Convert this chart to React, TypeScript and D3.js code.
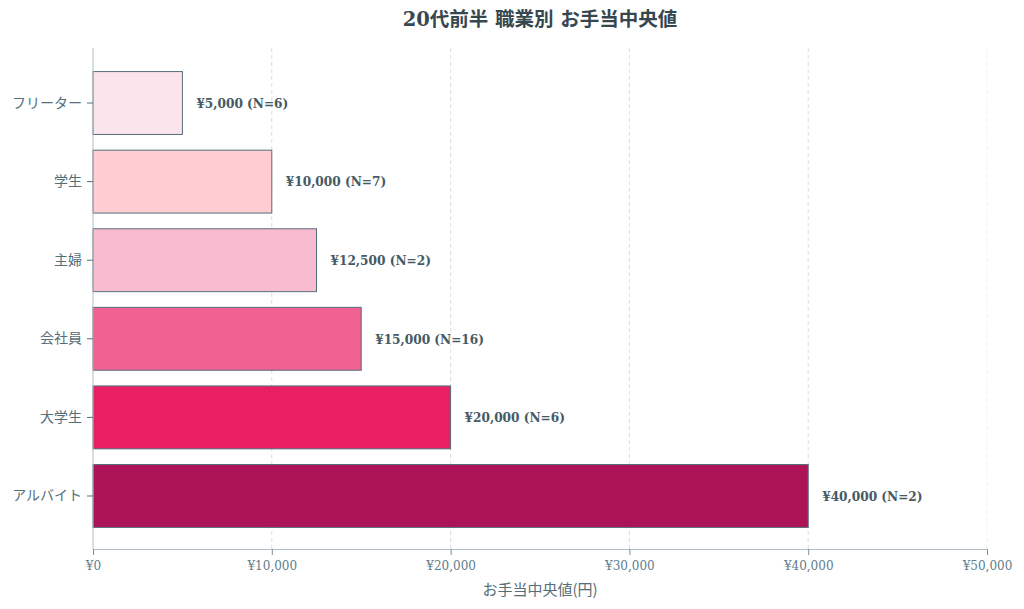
import { useEffect, useRef } from 'react'
import * as d3 from 'd3'

// 20代前半 職業別 お手当中央値
const jobs = ['フリーター', '学生', '主婦', '会社員', '大学生', 'アルバイト']
const medians = [5000, 10000, 12500, 15000, 20000, 40000]
const counts = [6, 7, 2, 16, 6, 2]
const colors = ['#fce4ec', '#ffcdd2', '#f8bbd0', '#f06292', '#e91e63', '#ad1457']
const xTicks = [0, 10000, 20000, 30000, 40000, 50000]

const W = 1024
const H = 609
const FONT = '"DejaVu Serif", "Noto Sans CJK JP", serif'

export default function App() {
  const svgRef = useRef<SVGSVGElement | null>(null)

  useEffect(() => {
    if (!svgRef.current) return
    const svg = d3.select(svgRef.current)
    svg.selectAll('*').remove()

    const margin = { top: 48, right: 37, bottom: 60, left: 93 }
    const iw = W - margin.left - margin.right
    const ih = H - margin.top - margin.bottom

    const rows = jobs.map((j, i) => ({ job: j, value: medians[i], n: counts[i], color: colors[i] }))

    const x = d3.scaleLinear().domain([0, 50000]).range([0, iw])
    const y = d3.scaleBand<string>().domain(jobs).range([0, ih + 2]).paddingInner(0.2).paddingOuter(0.3)

    const g = svg.append('g').attr('transform', `translate(${margin.left},${margin.top})`)

    // grid
    g.append('g')
      .selectAll('line')
      .data(xTicks.slice(1))
      .enter().append('line')
      .attr('x1', d => x(d)).attr('x2', d => x(d))
      .attr('y1', 0).attr('y2', ih)
      .attr('stroke', (d) => d === 50000 ? '#f0f0f0' : '#dcdcdc')
      .attr('stroke-dasharray', '4,3')

    // bars
    g.selectAll('.bar')
      .data(rows)
      .enter().append('rect')
      .attr('class', 'bar')
      .attr('x', x(0))
      .attr('y', d => y(d.job)!)
      .attr('width', d => x(d.value) - x(0))
      .attr('height', y.bandwidth())
      .attr('fill', d => d.color)
      .attr('stroke', '#546e7a')
      .attr('stroke-width', 1)

    // value labels
    g.selectAll('.lbl')
      .data(rows)
      .enter().append('text')
      .attr('class', 'lbl')
      .attr('x', d => x(d.value) + 14)
      .attr('y', d => y(d.job)! + y.bandwidth() / 2)
      .attr('dy', '0.35em')
      .style('font-family', '"DejaVu Serif Condensed", "DejaVu Serif", serif')
      .style('font-stretch', 'condensed')
      .style('font-size', '13.5px')
      .style('font-weight', 'bold')
      .style('fill', '#455a64')
      .text(d => `¥${d3.format(',')(d.value)} (N=${d.n})`)

    // x axis
    const xAxis = g.append('g')
      .attr('transform', `translate(0,${ih})`)
      .call(d3.axisBottom(x).tickValues(xTicks).tickSize(6).tickPadding(6).tickFormat(d => `¥${d3.format(',')(d as number)}`))
    xAxis.select('.domain').attr('stroke', '#b0bec5')
    xAxis.selectAll('.tick line').attr('stroke', '#78909c')
    xAxis.selectAll('.tick text')
      .style('font-family', FONT)
      .style('font-size', '12px')
      .style('fill', '#607d8b')

    // y axis
    const yAxis = g.append('g')
      .call(d3.axisLeft(y).tickSize(6).tickPadding(5))
    yAxis.select('.domain').attr('stroke', '#b0bec5').attr('d', `M0,0V${ih}`)
    yAxis.selectAll('.tick line').attr('stroke', '#546e7a')
    yAxis.selectAll('.tick text')
      .style('font-family', '"Noto Sans CJK JP", sans-serif')
      .style('font-size', '14px')
      .style('fill', '#546e7a')

    // title
    svg.append('text')
      .attr('x', margin.left + iw / 2)
      .attr('y', 26)
      .attr('text-anchor', 'middle')
      .style('font-family', '"DejaVu Serif", "Noto Sans CJK JP", serif')
      .style('font-size', '19.5px')
      .style('font-weight', 'bold')
      .style('fill', '#37474f')
      .text('20代前半 職業別 お手当中央値')

    // x label
    svg.append('text')
      .attr('x', margin.left + iw / 2)
      .attr('y', 595)
      .attr('text-anchor', 'middle')
      .style('font-family', '"Noto Sans CJK JP", sans-serif')
      .style('font-size', '15px')
      .style('fill', '#546e7a')
      .text('お手当中央値(円)')
  }, [])

  return (
    <svg ref={svgRef} width={W} height={H} style={{ position: 'absolute', left: 0, top: 0, background: '#fff' }}></svg>
  )
}
